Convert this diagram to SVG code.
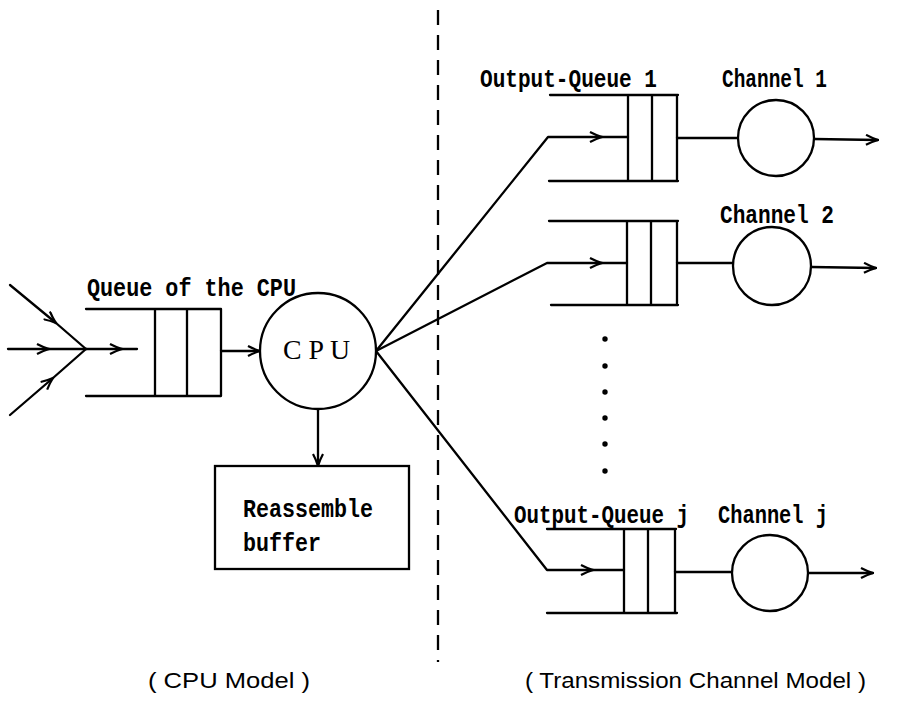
<svg xmlns="http://www.w3.org/2000/svg" width="907" height="701" viewBox="0 0 907 701">
<style>
.ln{stroke:#000;stroke-width:2.3;fill:none;stroke-linecap:round;stroke-linejoin:round}
.nd{stroke:#000;stroke-width:2.3;fill:#fff}
.t{font-family:"Liberation Mono","DejaVu Sans Mono",monospace;font-size:25px;font-weight:bold;fill:#000}
.s{font-family:"Liberation Sans",Arial,sans-serif;font-size:22px;fill:#000}
.dash{stroke:#000;stroke-width:2.3;stroke-dasharray:15 10;fill:none}
</style>
<defs>
<marker id="arr" viewBox="0 0 14 12" refX="13" refY="6" markerWidth="14" markerHeight="12" markerUnits="userSpaceOnUse" orient="auto">
<path d="M1,1 Q7,4.2 13,6 Q7,7.8 1,11" fill="none" stroke="#000" stroke-width="2.2"/>
</marker>
</defs>
<rect width="907" height="701" fill="#fff"/>
<g id="divider"><line class="dash" x1="438" y1="10" x2="438" y2="662"/></g>
<g id="connectors">
<path class="ln" d="M10,285 L56,323" marker-end="url(#arr)"/><path class="ln" d="M56,323 L86,349"/>
<path class="ln" d="M8,349 L49,349" marker-end="url(#arr)"/><path class="ln" d="M49,349 L86,349"/>
<path class="ln" d="M10,415 L53,378" marker-end="url(#arr)"/><path class="ln" d="M53,378 L86,349"/>
<path class="ln" d="M86,349 L122,349" marker-end="url(#arr)"/><path class="ln" d="M122,349 L137,349"/>
<path class="ln" d="M221,351 L260,351" marker-end="url(#arr)"/>
<path class="ln" d="M318,409 L318,466" marker-end="url(#arr)"/>
<path class="ln" d="M376,351 L548,137 L602,137" marker-end="url(#arr)"/><path class="ln" d="M602,137 L628,137"/>
<path class="ln" d="M376,351 L547,263 L602,263" marker-end="url(#arr)"/><path class="ln" d="M602,263 L627,263"/>
<path class="ln" d="M376,351 L547,570 L593,570" marker-end="url(#arr)"/><path class="ln" d="M593,570 L624,570"/>
<path class="ln" d="M677,138 L738,138"/>
<path class="ln" d="M814,139 L878,140" marker-end="url(#arr)"/>
<path class="ln" d="M677,263 L733,263"/>
<path class="ln" d="M811,267 L876,268" marker-end="url(#arr)"/>
<path class="ln" d="M675,572 L732,572"/>
<path class="ln" d="M808,573 L873,573" marker-end="url(#arr)"/>
</g>
<g id="cpu-queue">
<path class="ln" d="M86,309 H221 V396 H86 M155,309 V396 M187,309 V396"/>
<text class="t" x="87" y="296" textLength="209" lengthAdjust="spacingAndGlyphs">Queue of the CPU</text>
</g>
<g id="cpu">
<circle class="nd" cx="318" cy="351" r="58"/>
<text x="283" y="359" textLength="67" lengthAdjust="spacingAndGlyphs" style="font-family:'Liberation Serif',serif;font-size:27px">C P U</text>
</g>
<g id="buffer">
<rect class="nd" x="215" y="466" width="194" height="103"/>
<text class="t" x="243" y="517" textLength="130" lengthAdjust="spacingAndGlyphs">Reassemble</text>
<text class="t" x="243" y="551" textLength="78" lengthAdjust="spacingAndGlyphs">buffer</text>
</g>
<g id="output-queue-1">
<path class="ln" d="M550,95 H678 M549,181 H678 M628,95 V181 M652,95 V181 M677,95 V181"/>
<text class="t" x="480" y="87" textLength="177" lengthAdjust="spacingAndGlyphs">Output-Queue 1</text>
</g>
<g id="channel-1">
<circle class="nd" cx="776" cy="138" r="38"/>
<text class="t" x="722" y="87" textLength="105" lengthAdjust="spacingAndGlyphs">Channel 1</text>
</g>
<g id="output-queue-2">
<path class="ln" d="M549,221 H678 M551,305 H678 M627,221 V305 M651,221 V305 M677,221 V305"/>
</g>
<g id="channel-2">
<circle class="nd" cx="772" cy="266" r="39"/>
<text class="t" x="720" y="223" textLength="114" lengthAdjust="spacingAndGlyphs">Channel 2</text>
</g>
<g id="dots" fill="#000">
<circle cx="605" cy="339" r="2.7"/><circle cx="605" cy="366" r="2.7"/><circle cx="605" cy="392" r="2.7"/>
<circle cx="605" cy="418" r="2.7"/><circle cx="605" cy="444" r="2.7"/><circle cx="605" cy="471" r="2.7"/>
</g>
<g id="output-queue-j">
<path class="ln" d="M547,529 H676 M547,613 H677 M624,529 V613 M648,529 V613 M675,529 V613"/>
<text class="t" x="514" y="523" textLength="175" lengthAdjust="spacingAndGlyphs">Output-Queue j</text>
</g>
<g id="channel-j">
<circle class="nd" cx="770" cy="573" r="38"/>
<text class="t" x="718" y="523" textLength="110" lengthAdjust="spacingAndGlyphs">Channel j</text>
</g>
<g id="captions">
<text class="s" x="148" y="688" textLength="162" lengthAdjust="spacingAndGlyphs">( CPU Model )</text>
<text class="s" x="525" y="688" textLength="341" lengthAdjust="spacingAndGlyphs">( Transmission Channel Model )</text>
</g>
</svg>
